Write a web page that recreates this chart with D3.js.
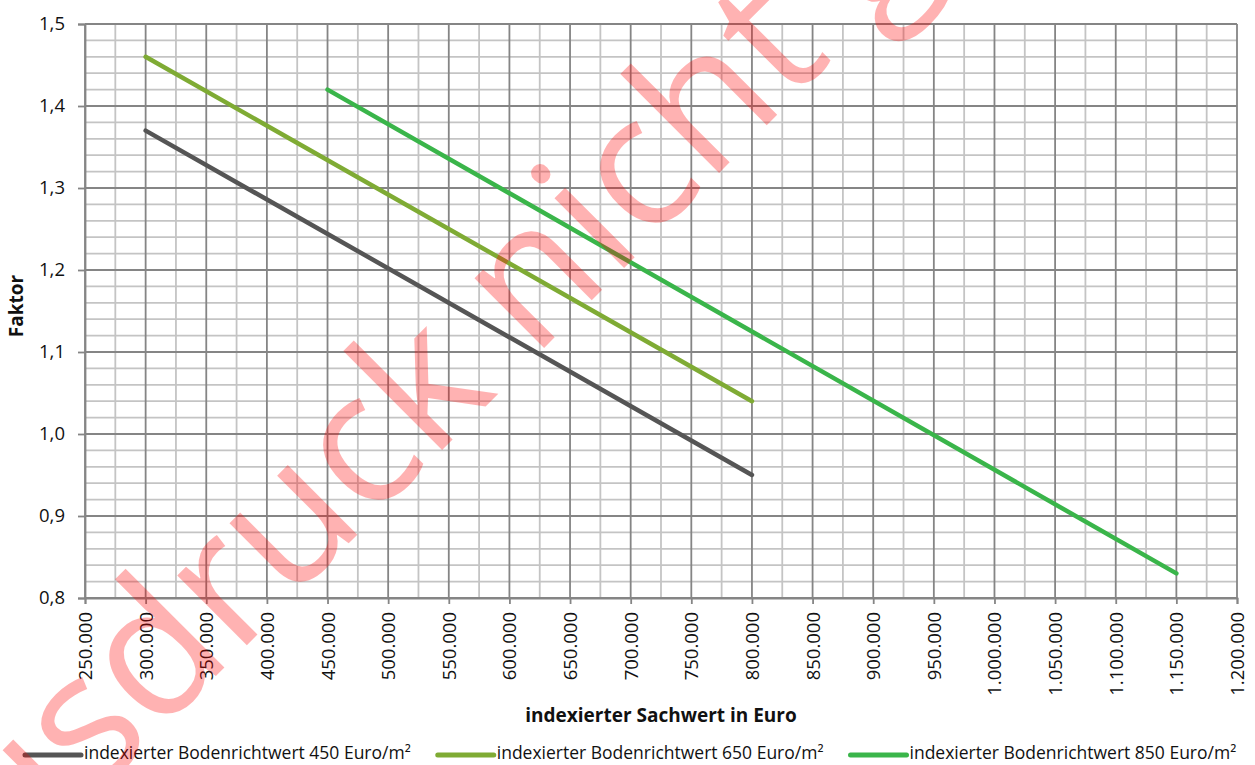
<!DOCTYPE html>
<html lang="de">
<head>
<meta charset="utf-8">
<script src="https://cdn.jsdelivr.net/npm/d3@7"></script>
<style>
  html, body { margin: 0; padding: 0; background: #fff; }
  svg { display: block; font-family: "Open Sans", "Noto Sans", sans-serif; }
</style>
</head>
<body>
<svg id="chart" width="1255" height="765"></svg>
<script>
// Sachwert (x) in Euro and the matching factor at both ends of each straight line
const sachwert450 = [300000, 800000];
const faktor450   = [1.37, 0.95];

const sachwert650 = [300000, 800000];
const faktor650   = [1.46, 1.04];

const sachwert850 = [450000, 1150000];
const faktor850   = [1.42, 0.83];

const seriesNames = [
  "indexierter Bodenrichtwert 450 Euro/m²",
  "indexierter Bodenrichtwert 650 Euro/m²",
  "indexierter Bodenrichtwert 850 Euro/m²"
];
const seriesColors = ["#555555", "#7fab34", "#3ab54a"];

const xTicks = [250000, 300000, 350000, 400000, 450000, 500000, 550000, 600000, 650000, 700000, 750000, 800000, 850000, 900000, 950000, 1000000, 1050000, 1100000, 1150000, 1200000];
const yTicks = [0.8, 0.9, 1.0, 1.1, 1.2, 1.3, 1.4, 1.5];

const xTitle = "indexierter Sachwert in Euro";
const yTitle = "Faktor";
const watermark = "Ausdruck nicht gestattet";

const de = d3.formatLocale({ decimal: ",", thousands: ".", grouping: [3], currency: ["", " €"] });
const fmtX = de.format(",");
const fmtY = de.format(".1f");

const svg = d3.select("#chart");
const plotL = 85, plotR = 1237, plotT = 24, plotB = 598;

const x = d3.scaleLinear().domain([250000, 1200000]).range([plotL, plotR]);
const y = d3.scaleLinear().domain([0.8, 1.5]).range([plotB, plotT]);

// grid: light minor lines first, darker major lines on top
const grid = svg.append("g");
const minorX = d3.range(275000, 1200000, 50000);
const minorY = d3.range(0, 35).map(i => 0.8 + i * 0.02).filter(v => Math.round(v * 100) % 10 !== 0);

grid.selectAll(".mx").data(minorX).join("line")
  .attr("x1", d => x(d)).attr("x2", d => x(d))
  .attr("y1", plotT).attr("y2", plotB)
  .attr("stroke", "#c4c4c4").attr("stroke-width", 1.8);
grid.selectAll(".my").data(minorY).join("line")
  .attr("x1", plotL).attr("x2", plotR)
  .attr("y1", d => y(d)).attr("y2", d => y(d))
  .attr("stroke", "#c4c4c4").attr("stroke-width", 1.8);
grid.selectAll(".Mx").data(xTicks).join("line")
  .attr("x1", d => x(d)).attr("x2", d => x(d))
  .attr("y1", plotT).attr("y2", plotB)
  .attr("stroke", "#858585").attr("stroke-width", 1.8);
grid.selectAll(".My").data(yTicks).join("line")
  .attr("x1", plotL).attr("x2", plotR)
  .attr("y1", d => y(d)).attr("y2", d => y(d))
  .attr("stroke", "#858585").attr("stroke-width", 1.8);

// axes
const yAxis = svg.append("g").attr("transform", `translate(${plotL},0)`)
  .call(d3.axisLeft(y).tickValues(yTicks).tickFormat(fmtY).tickSize(7).tickPadding(13));
const xAxis = svg.append("g").attr("transform", `translate(0,${plotB})`)
  .call(d3.axisBottom(x).tickValues(xTicks).tickFormat(fmtX).tickSize(6));

[yAxis, xAxis].forEach(a => {
  a.select(".domain").attr("stroke", "#858585").attr("stroke-width", 1.8);
  a.selectAll(".tick line").attr("stroke", "#858585").attr("stroke-width", 1.8);
  a.selectAll(".tick text").attr("fill", "#111").style("font-size", "18.5px")
    .style("font-family", "'Open Sans', sans-serif");
});
xAxis.selectAll(".tick text")
  .attr("transform", "rotate(-90)")
  .attr("text-anchor", "end")
  .attr("x", -14).attr("y", 0).attr("dy", "0.35em");

// axis titles
svg.append("text")
  .attr("x", (plotL + plotR) / 2).attr("y", 722)
  .attr("text-anchor", "middle")
  .style("font-size", "19px").style("font-weight", "bold")
  .attr("fill", "#111").text(xTitle);
svg.append("text")
  .attr("transform", `translate(23,${(plotT + plotB) / 2 - 5}) rotate(-90)`)
  .attr("text-anchor", "middle")
  .style("font-size", "19px").style("font-weight", "bold")
  .attr("fill", "#111").text(yTitle);

// data lines
const series = [
  { xs: sachwert450, ys: faktor450 },
  { xs: sachwert650, ys: faktor650 },
  { xs: sachwert850, ys: faktor850 }
];
const line = d3.line().x(d => x(d[0])).y(d => y(d[1]));
svg.append("g").selectAll("path").data(series).join("path")
  .attr("d", s => line(s.xs.map((v, i) => [v, s.ys[i]])))
  .attr("fill", "none")
  .attr("stroke", (s, i) => seriesColors[i])
  .attr("stroke-width", 4.5)
  .attr("stroke-linecap", "round")
  .attr("stroke-linejoin", "round");

// legend, laid out left to right
const legend = svg.append("g");
let lx = 25;
seriesNames.forEach((name, i) => {
  const g = legend.append("g");
  g.append("line")
    .attr("x1", lx).attr("x2", lx + 56).attr("y1", 755).attr("y2", 755)
    .attr("stroke", seriesColors[i]).attr("stroke-width", 5).attr("stroke-linecap", "round");
  const t = g.append("text")
    .attr("x", lx + 59).attr("y", 759)
    .style("font-size", "17.5px").attr("fill", "#111").text(name);
  lx += 59 + t.node().getComputedTextLength() + 27;
});

// diagonal watermark over the plot
svg.append("text")
  .attr("transform", "translate(-68,960) rotate(-45)")
  .style("font-size", "184px")
  .style("font-family", "'Open Sans', sans-serif")
  .attr("fill", "#ff0000").attr("fill-opacity", 0.3)
  .text(watermark);
</script>
</body>
</html>
